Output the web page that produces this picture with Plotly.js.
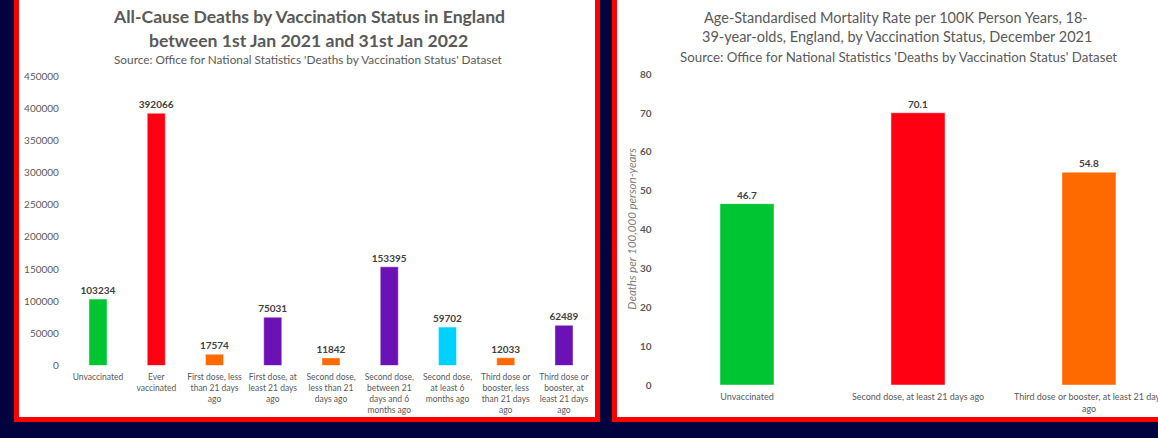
<!DOCTYPE html>
<html><head><meta charset="utf-8">
<script src="https://cdn.plot.ly/plotly-3.0.1.min.js"></script>
<style>html,body{margin:0;padding:0;background:#02023e;}#chart{width:1158px;height:438px;}</style>
</head><body><div id="chart"></div>
<script>
// ---- data ----
const statusLabels = [
  "Unvaccinated",
  "Ever<br>vaccinated",
  "First dose, less<br>than 21 days<br>ago",
  "First dose, at<br>least 21 days<br>ago",
  "Second dose,<br>less than 21<br>days ago",
  "Second dose,<br>between 21<br>days and 6<br>months ago",
  "Second dose,<br>at least 6<br>months ago",
  "Third dose or<br>booster, less<br>than 21 days<br>ago",
  "Third dose or<br>booster, at<br>least 21 days<br>ago"
];
const deathCounts = [103234, 392066, 17574, 75031, 11842, 153395, 59702, 12033, 62489];
const rateLabels = [
  "Unvaccinated",
  "Second dose, at least 21 days ago",
  "Third dose or booster, at least 21 days<br>ago"
];
const mortalityRates = [46.7, 70.1, 54.8];
const deathTicks = [0, 50000, 100000, 150000, 200000, 250000, 300000, 350000, 400000, 450000];
const rateTicks = [0, 10, 20, 30, 40, 50, 60, 70, 80];

// ---- styles ----
const deathColors = ['#00c533','#ff0013','#ff6a00','#6a12b5','#ff6a00','#6a12b5','#00d2ff','#ff6a00','#6a12b5'];
const rateColors = ['#00c533','#ff0013','#ff6a00'];
const W = 1158, H = 438;
const px = x => x / W;
const py = y => 1 - y / H;
const FONT = 'Lato, "Open Sans", sans-serif';
const GRAY = '#595959';
const DARK = '#404040';

const traces = [
  {
    type: 'bar', x: statusLabels, y: deathCounts, xaxis: 'x', yaxis: 'y',
    width: 0.31,
    marker: {color: deathColors, line: {color: 'rgba(255,255,255,0.45)', width: 1}},
    text: deathCounts.map(String), textposition: 'outside', cliponaxis: false,
    constraintext: 'none',
    textfont: {family: FONT, size: 10, color: DARK, weight: 'bold'},
    hoverinfo: 'none'
  },
  {
    type: 'bar', x: rateLabels, y: mortalityRates, xaxis: 'x2', yaxis: 'y2',
    width: 0.316,
    marker: {color: rateColors, line: {color: 'rgba(255,255,255,0.45)', width: 1}},
    text: mortalityRates.map(v => v.toFixed(1)), textposition: 'outside', cliponaxis: false,
    constraintext: 'none',
    textfont: {family: FONT, size: 10, color: DARK, weight: 'bold'},
    hoverinfo: 'none'
  }
];

const shapes = [
  {type:'rect', xref:'paper', yref:'paper', x0:px(14), x1:px(600), y0:py(422), y1:py(-10), fillcolor:'#ff0000', line:{width:0}, layer:'below'},
  {type:'rect', xref:'paper', yref:'paper', x0:px(19), x1:px(595), y0:py(417), y1:py(-10), fillcolor:'#ffffff', line:{width:0}, layer:'below'},
  {type:'rect', xref:'paper', yref:'paper', x0:px(612), x1:px(1190), y0:py(422), y1:py(-10), fillcolor:'#ff0000', line:{width:0}, layer:'below'},
  {type:'rect', xref:'paper', yref:'paper', x0:px(617), x1:px(1190), y0:py(417), y1:py(-10), fillcolor:'#ffffff', line:{width:0}, layer:'below'}
];

function ann(text, x, y, size, opts) {
  return Object.assign({
    text: text, xref:'paper', yref:'paper', x: px(x), y: py(y),
    xanchor:'center', yanchor:'middle', showarrow:false,
    font:{family: FONT, size: size, color: GRAY}
  }, opts || {});
}

const annotations = [
  ann('All-Cause Deaths by Vaccination Status in England', 308.5, 17, 17.6, {font:{family:FONT,size:17.6,color:GRAY,weight:'bold'}}),
  ann('between 1st Jan 2021 and 31st Jan 2022', 308.5, 40, 17.6, {font:{family:FONT,size:17.6,color:GRAY,weight:'bold'}}),
  ann("Source: Office for National Statistics 'Deaths by Vaccination Status' Dataset", 308.7, 59, 11.8),
  ann('Age-Standardised Mortality Rate per 100K Person Years, 18-', 896, 17.3, 14.5),
  ann('39-year-olds, England, by Vaccination Status, December 2021', 897, 36.7, 14.5),
  ann("Source: Office for National Statistics 'Deaths by Vaccination Status' Dataset", 898, 56.7, 13.3),
  ann('<i>Deaths per 100,000 person-years</i>', 630.7, 229, 11.5, {textangle:-90, font:{family:FONT,size:11.5,color:'#7f7f7f'}})
];

const layout = {
  width: W, height: H,
  margin: {l:0, r:0, t:0, b:0, pad:0},
  paper_bgcolor: '#02023e', plot_bgcolor: 'rgba(0,0,0,0)',
  showlegend: false,
  shapes: shapes, annotations: annotations,
  xaxis: {
    domain: [px(68.9), px(593.1)], anchor: 'y', type: 'category',
    range: [-0.5, 8.5], showgrid:false, zeroline:false, showline:false, ticks:'',
    tickfont: {family: FONT, size: 8.5, color: GRAY}, automargin:false, tickangle: 0,
    ticklabelstandoff: 5
  },
  yaxis: {
    domain: [py(365.5), py(76)], anchor: 'x', range: [0, 450000],
    tickvals: deathTicks, ticktext: deathTicks.map(String),
    showgrid:false, zeroline:false, showline:false, ticks:'',
    tickfont: {family: FONT, size: 10, color: GRAY}, automargin:false,
    ticklabelstandoff: 9
  },
  xaxis2: {
    domain: [px(661.5), 1], anchor: 'y2', type: 'category',
    range: [-0.5, -0.5 + (W - 661.5) / 171], showgrid:false, zeroline:false, showline:false, ticks:'',
    tickfont: {family: FONT, size: 9, color: GRAY}, automargin:false, tickangle: 0,
    ticklabelstandoff: 5
  },
  yaxis2: {
    domain: [py(385), py(74.3)], anchor: 'x2', range: [0, 80],
    tickvals: rateTicks, ticktext: rateTicks.map(String),
    showgrid:false, zeroline:false, showline:false, ticks:'',
    tickfont: {family: FONT, size: 10, color: GRAY, weight: 'bold'}, automargin:false,
    ticklabelstandoff: 9
  }
};

Plotly.newPlot('chart', traces, layout, {staticPlot: true, displayModeBar: false});
</script>
</body></html>
